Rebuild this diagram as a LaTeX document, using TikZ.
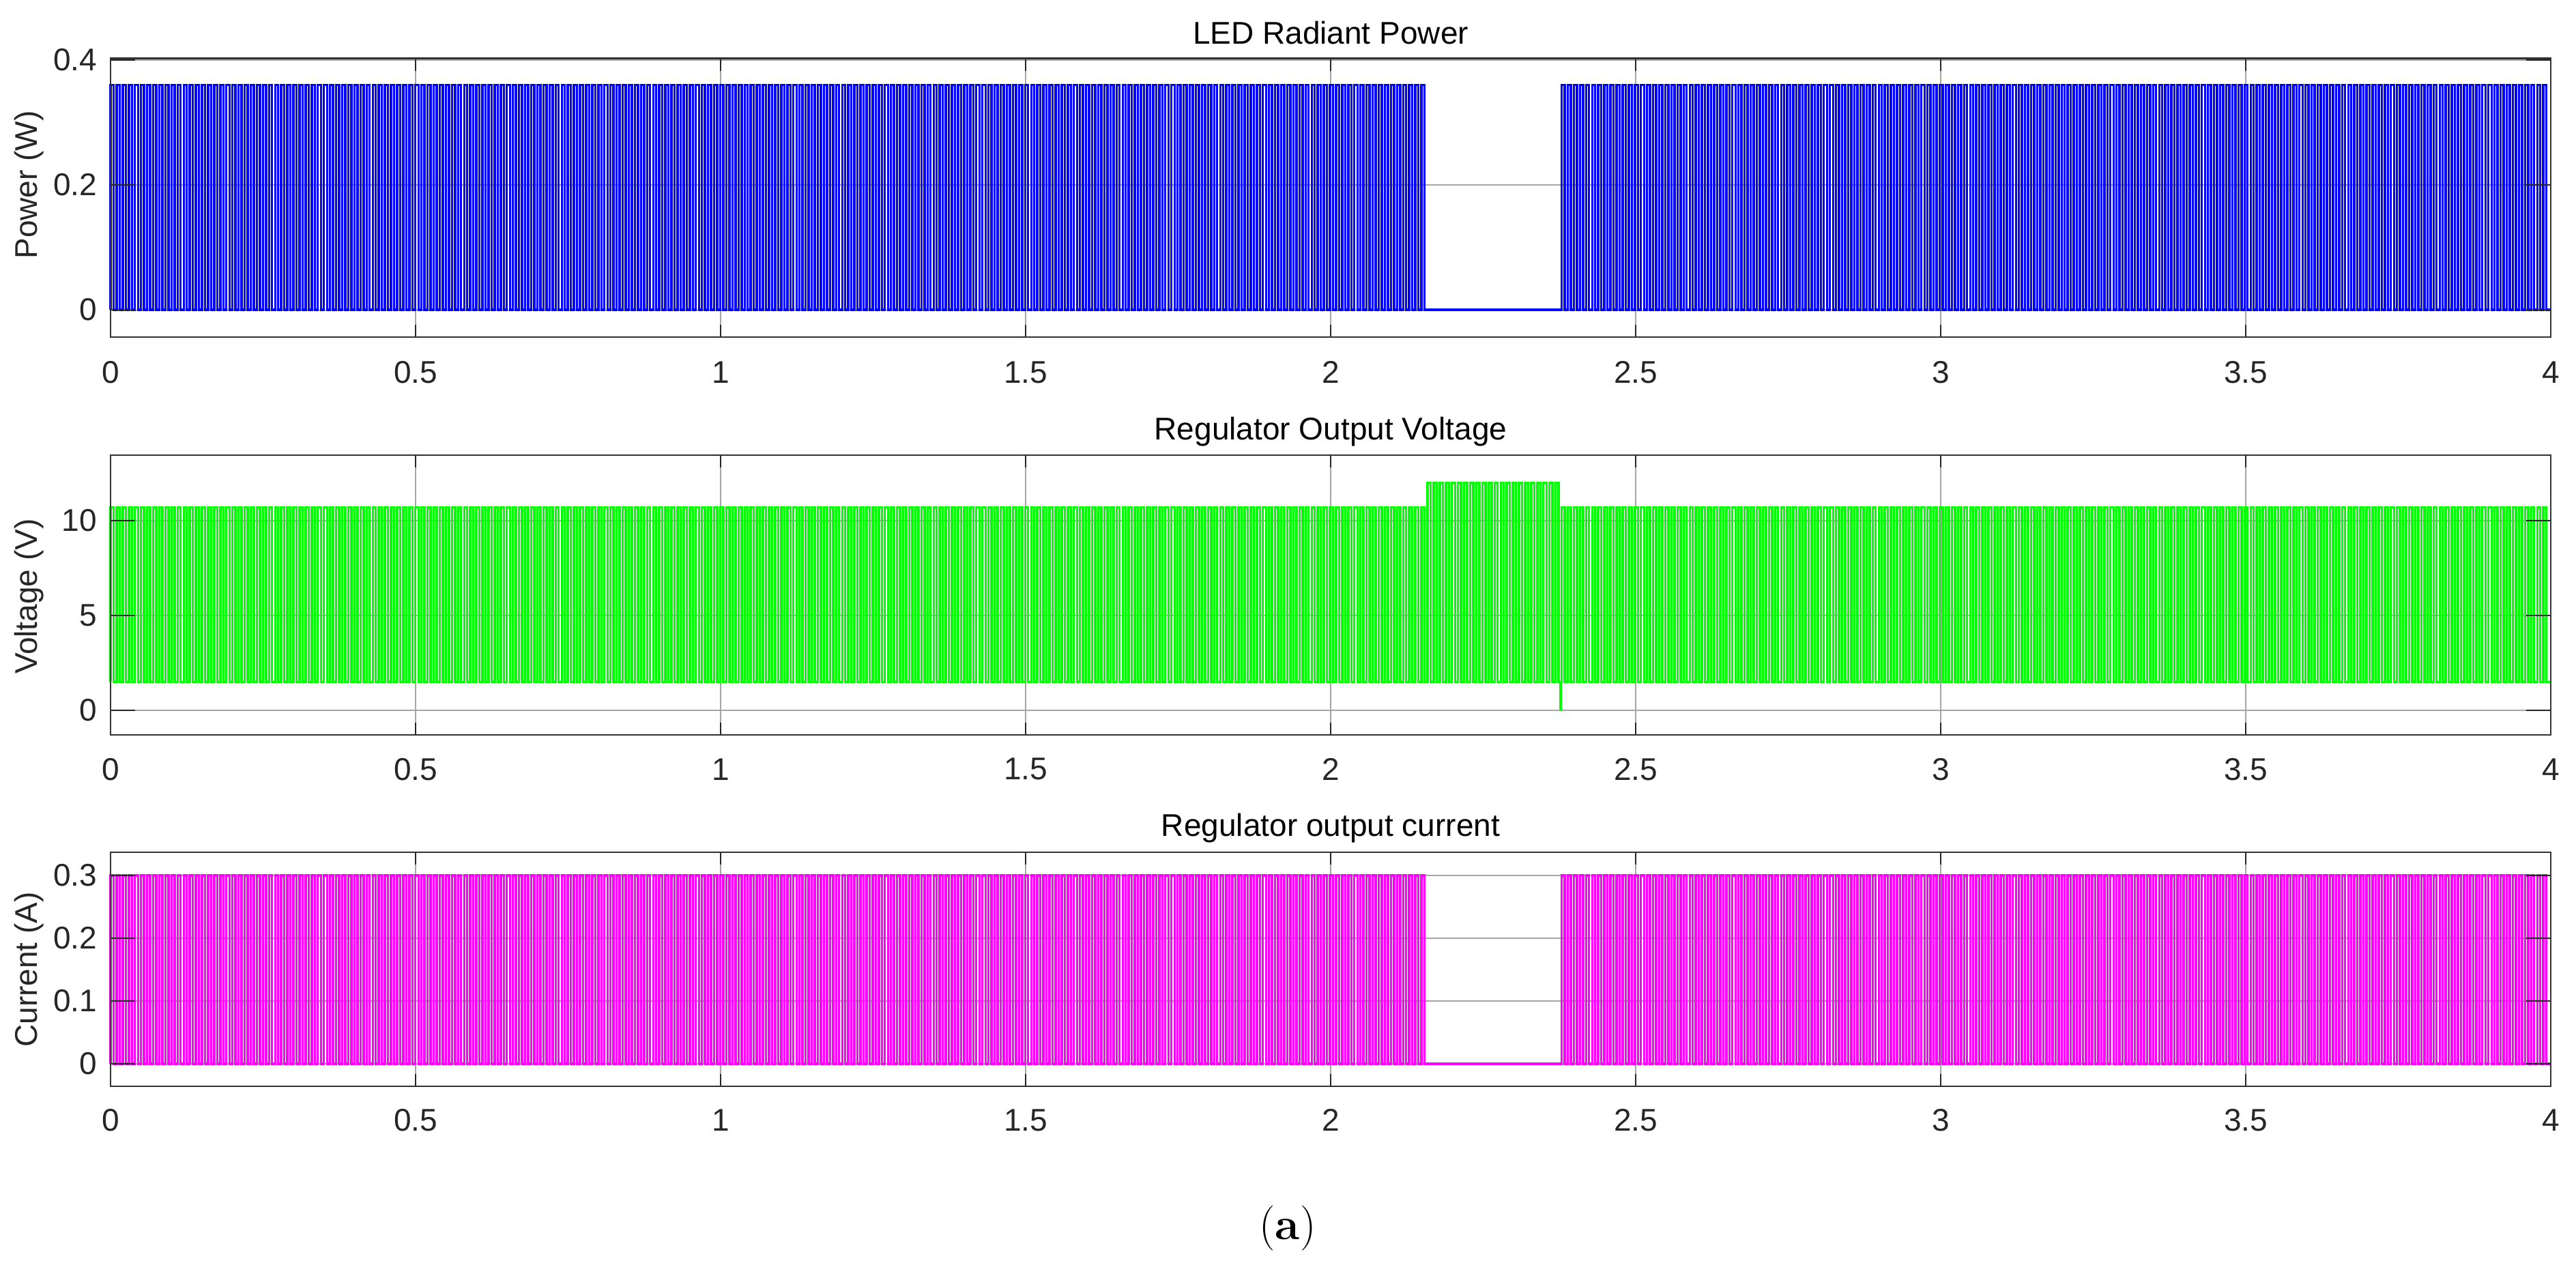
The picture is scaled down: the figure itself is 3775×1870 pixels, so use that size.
\documentclass[tikz,border=0pt]{standalone}
\usepackage{fontspec}
\setmainfont{Liberation Sans}
\newfontfamily\capfont{Latin Modern Roman}
\begin{document}
\begin{tikzpicture}[x=1pt,y=1pt,
  lbl/.style={font=\fontsize{46}{50}\selectfont, text=black!85, inner sep=0pt},
  ttl/.style={font=\fontsize{46}{50}\selectfont, text=black, inner sep=0pt},
  gridln/.style={draw=black!35, line width=2pt},
  boxln/.style={draw=black!80, line width=2.5pt},
  tickln/.style={draw=black!85, line width=2.5pt},
  sig/.style={line width=3.4pt, line join=miter}]
\fill[white] (0,0) rectangle (3775,-1870);
\useasboundingbox (0,0) rectangle (3775,-1870);
\definecolor{sigblue}{RGB}{0,0,255}
\definecolor{siggreen}{RGB}{0,255,0}
\definecolor{sigmag}{RGB}{255,0,255}

% ---------- Plot 1 ----------
\begin{scope}[shift={(162,-454)}, x=894pt, y=915pt]
  \foreach \t in {0.5,1,...,3.5} \draw[gridln] (\t,-0.0437) -- (\t,0.403);
  \foreach \v in {0,0.2,0.4} \draw[gridln] (0,\v) -- (4,\v);
  \draw[sigblue,sig] (0,0) \foreach \i in {0,...,215}{ -- (\i*0.01,0) -- (\i*0.01,0.36) -- (\i*0.01+0.005,0.36) -- (\i*0.01+0.005,0)} -- (2.38,0)
     \foreach \i in {238,...,399}{ -- (\i*0.01,0) -- (\i*0.01,0.36) -- (\i*0.01+0.005,0.36) -- (\i*0.01+0.005,0)} -- (4,0);
  \foreach \t in {0.5,1,...,3.5} {\draw[tickln] (\t,-0.0437) -- ++(0,0.02); \draw[tickln] (\t,0.403) -- ++(0,-0.02);}
  \foreach \v in {0,0.2,0.4} {\draw[tickln] (0,\v) -- ++(0.04,0); \draw[tickln] (4,\v) -- ++(-0.04,0);}
  \draw[boxln] (0,-0.0437) rectangle (4,0.403);
  \node[ttl] (t1) at (2,0.444) {LED Radiant Power};
  \foreach \t/\s [count=\k] in {0/0,0.5/0.5,1/1,1.5/1.5,2/2,2.5/2.5,3/3,3.5/3.5,4/4}
    \node[lbl] (xa\k) at (\t,-0.1) {\s};
  \foreach \v [count=\k] in {0,0.2,0.4} \node[lbl,anchor=east] (ya\k) at (-0.022,\v) {\v};
  \node[lbl,rotate=90] (yl1) at (-0.134,0.2) {Power (W)};
\end{scope}

% ---------- Plot 2 ----------
\begin{scope}[shift={(162,-1041)}, x=894pt, y=27.8pt]
  \foreach \t in {0.5,1,...,3.5} \draw[gridln] (\t,-1.29) -- (\t,13.45);
  \foreach \v in {0,5,10} \draw[gridln] (0,\v) -- (4,\v);
  \draw[siggreen,sig] (0,1.5) \foreach \i in {0,...,215}{ -- (\i*0.01,1.5) -- (\i*0.01,10.7) -- (\i*0.01+0.005,10.7) -- (\i*0.01+0.005,1.5)}
     \foreach \i in {216,...,237}{ -- (\i*0.01,1.5) -- (\i*0.01,12) -- (\i*0.01+0.005,12) -- (\i*0.01+0.005,1.5)}
     -- (2.377,1.5) -- (2.377,0) -- (2.377,1.5)
     \foreach \i in {238,...,399}{ -- (\i*0.01,1.5) -- (\i*0.01,10.7) -- (\i*0.01+0.005,10.7) -- (\i*0.01+0.005,1.5)} -- (4,1.5);
  \foreach \t in {0.5,1,...,3.5} {\draw[tickln] (\t,-1.29) -- ++(0,0.65); \draw[tickln] (\t,13.45) -- ++(0,-0.65);}
  \foreach \v in {0,5,10} {\draw[tickln] (0,\v) -- ++(0.04,0); \draw[tickln] (4,\v) -- ++(-0.04,0);}
  \draw[boxln] (0,-1.29) rectangle (4,13.45);
  \node[ttl] (t2) at (2,14.7) {Regulator Output Voltage};
  \foreach \t/\s [count=\k] in {0/0,0.5/0.5,1/1,1.5/1.5,2/2,2.5/2.5,3/3,3.5/3.5,4/4}
    \node[lbl] (xb\k) at (\t,-3.1) {\s};
  \foreach \v [count=\k] in {0,5,10} \node[lbl,anchor=east] (yb\k) at (-0.022,\v) {\v};
  \node[lbl,rotate=90] (yl2) at (-0.134,6) {Voltage (V)};
\end{scope}

% ---------- Plot 3 ----------
\begin{scope}[shift={(162,-1559)}, x=894pt, y=920pt]
  \foreach \t in {0.5,1,...,3.5} \draw[gridln] (\t,-0.0359) -- (\t,0.337);
  \foreach \v in {0,0.1,0.2,0.3} \draw[gridln] (0,\v) -- (4,\v);
  \draw[sigmag,sig] (0,0) \foreach \i in {0,...,215}{ -- (\i*0.01,0) -- (\i*0.01,0.3) -- (\i*0.01+0.005,0.3) -- (\i*0.01+0.005,0)} -- (2.38,0)
     \foreach \i in {238,...,399}{ -- (\i*0.01,0) -- (\i*0.01,0.3) -- (\i*0.01+0.005,0.3) -- (\i*0.01+0.005,0)} -- (4,0);
  \foreach \t in {0.5,1,...,3.5} {\draw[tickln] (\t,-0.0359) -- ++(0,0.02); \draw[tickln] (\t,0.337) -- ++(0,-0.02);}
  \foreach \v in {0,0.1,0.2,0.3} {\draw[tickln] (0,\v) -- ++(0.04,0); \draw[tickln] (4,\v) -- ++(-0.04,0);}
  \draw[boxln] (0,-0.0359) rectangle (4,0.337);
  \node[ttl] (t3) at (2,0.375) {Regulator output current};
  \foreach \t/\s [count=\k] in {0/0,0.5/0.5,1/1,1.5/1.5,2/2,2.5/2.5,3/3,3.5/3.5,4/4}
    \node[lbl] (xc\k) at (\t,-0.09) {\s};
  \foreach \v [count=\k] in {0,0.1,0.2,0.3} \node[lbl,anchor=east] (yc\k) at (-0.022,\v) {\v};
  \node[lbl,rotate=90] (yl3) at (-0.134,0.15) {Current (A)};
\end{scope}

\node[font=\capfont\fontsize{66}{74}\selectfont, inner sep=0pt] (cap) at (1887,-1800) {(\textbf{a})};
\end{tikzpicture}
\end{document}
